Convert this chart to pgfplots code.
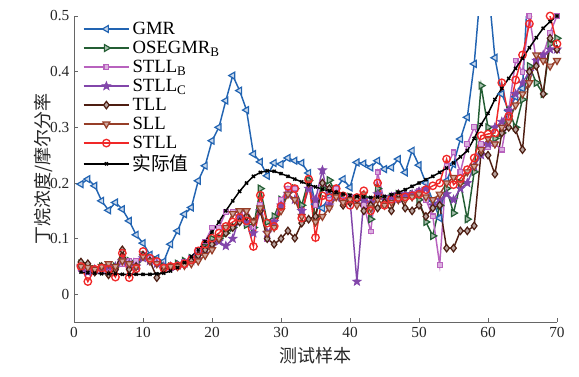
\documentclass[border=0pt]{standalone}
\usepackage{pgfplots}
\usepackage{pgfplotstable}
\pgfplotsset{compat=1.18}
\usepackage{fontspec}
\setmainfont{Liberation Serif}
\newfontfamily\cjk{Noto Sans CJK SC}
\definecolor{cgmr}{RGB}{34,100,178}
\definecolor{cose}{RGB}{36,94,52}
\definecolor{cstb}{RGB}{184,98,190}
\definecolor{cstc}{RGB}{130,70,170}
\definecolor{ctll}{RGB}{78,30,18}
\definecolor{csll}{RGB}{150,62,40}
\definecolor{cstll}{RGB}{240,40,40}
\pgfdeclareplotmark{fstar}{%
  \pgfpathmoveto{\pgfpointpolar{90}{\pgfplotmarksize}}%
  \pgfpathlineto{\pgfpointpolar{126}{0.42\pgfplotmarksize}}%
  \pgfpathlineto{\pgfpointpolar{162}{\pgfplotmarksize}}%
  \pgfpathlineto{\pgfpointpolar{198}{0.42\pgfplotmarksize}}%
  \pgfpathlineto{\pgfpointpolar{234}{\pgfplotmarksize}}%
  \pgfpathlineto{\pgfpointpolar{270}{0.42\pgfplotmarksize}}%
  \pgfpathlineto{\pgfpointpolar{306}{\pgfplotmarksize}}%
  \pgfpathlineto{\pgfpointpolar{342}{0.42\pgfplotmarksize}}%
  \pgfpathlineto{\pgfpointpolar{18}{\pgfplotmarksize}}%
  \pgfpathlineto{\pgfpointpolar{54}{0.42\pgfplotmarksize}}%
  \pgfpathclose
  \pgfusepathqfillstroke}
\pgfplotstableread{
x gmr ose stllb stllc tll sll stll act
1 0.198 0.055 0.045 0.050 0.058 0.050 0.050 0.040
2 0.207 0.050 0.040 0.040 0.055 0.048 0.023 0.039
3 0.195 0.045 0.042 0.045 0.040 0.045 0.045 0.038
4 0.168 0.050 0.050 0.045 0.050 0.050 0.047 0.037
5 0.151 0.048 0.048 0.050 0.035 0.055 0.045 0.037
6 0.165 0.050 0.050 0.050 0.045 0.050 0.031 0.037
7 0.153 0.060 0.055 0.060 0.080 0.060 0.074 0.036
8 0.132 0.060 0.060 0.055 0.045 0.055 0.030 0.036
9 0.107 0.058 0.060 0.050 0.050 0.050 0.046 0.036
10 0.092 0.070 0.070 0.065 0.070 0.068 0.077 0.036
11 0.071 0.066 0.065 0.060 0.060 0.060 0.065 0.036
12 0.065 0.060 0.060 0.055 0.030 0.055 0.059 0.037
13 0.059 0.050 0.050 0.050 0.045 0.050 0.047 0.038
14 0.090 0.050 0.048 0.050 0.050 0.050 0.050 0.042
15 0.114 0.055 0.050 0.052 0.050 0.050 0.051 0.048
16 0.144 0.060 0.058 0.055 0.055 0.052 0.055 0.057
17 0.156 0.065 0.065 0.060 0.060 0.055 0.062 0.068
18 0.204 0.075 0.080 0.070 0.070 0.060 0.078 0.080
19 0.231 0.085 0.095 0.080 0.080 0.070 0.090 0.095
20 0.276 0.100 0.120 0.090 0.090 0.080 0.101 0.112
21 0.300 0.100 0.120 0.095 0.100 0.100 0.110 0.130
22 0.348 0.110 0.148 0.087 0.110 0.120 0.122 0.150
23 0.393 0.120 0.148 0.100 0.120 0.145 0.130 0.168
24 0.366 0.140 0.150 0.140 0.130 0.150 0.138 0.185
25 0.331 0.125 0.150 0.130 0.140 0.150 0.132 0.200
26 0.252 0.120 0.120 0.110 0.130 0.130 0.086 0.212
27 0.238 0.190 0.160 0.150 0.150 0.155 0.178 0.219
28 0.213 0.130 0.100 0.110 0.100 0.110 0.128 0.222
29 0.236 0.140 0.130 0.130 0.090 0.120 0.122 0.221
30 0.234 0.170 0.170 0.160 0.100 0.150 0.158 0.217
31 0.245 0.185 0.190 0.180 0.114 0.180 0.194 0.212
32 0.240 0.190 0.190 0.170 0.101 0.170 0.190 0.207
33 0.236 0.160 0.150 0.150 0.128 0.140 0.137 0.202
34 0.218 0.205 0.190 0.190 0.135 0.200 0.207 0.197
35 0.162 0.140 0.160 0.170 0.140 0.130 0.102 0.193
36 0.155 0.190 0.200 0.223 0.200 0.140 0.177 0.189
37 0.175 0.205 0.170 0.160 0.190 0.155 0.174 0.186
38 0.190 0.180 0.190 0.175 0.180 0.175 0.190 0.183
39 0.207 0.170 0.170 0.165 0.160 0.165 0.177 0.180
40 0.192 0.175 0.175 0.170 0.165 0.170 0.160 0.178
41 0.237 0.170 0.165 0.023 0.170 0.160 0.174 0.176
42 0.235 0.175 0.160 0.170 0.150 0.180 0.186 0.175
43 0.228 0.135 0.113 0.165 0.160 0.155 0.150 0.174
44 0.240 0.190 0.219 0.180 0.155 0.170 0.200 0.175
45 0.225 0.170 0.165 0.170 0.165 0.160 0.160 0.176
46 0.228 0.175 0.170 0.175 0.150 0.165 0.171 0.179
47 0.243 0.180 0.170 0.180 0.180 0.170 0.174 0.183
48 0.219 0.175 0.175 0.180 0.155 0.170 0.175 0.188
49 0.258 0.180 0.180 0.180 0.150 0.175 0.177 0.194
50 0.232 0.170 0.185 0.185 0.160 0.180 0.180 0.200
51 0.200 0.130 0.170 0.190 0.140 0.175 0.188 0.206
52 0.168 0.105 0.140 0.160 0.155 0.170 0.195 0.212
53 0.137 0.160 0.053 0.170 0.160 0.180 0.200 0.219
54 0.204 0.190 0.230 0.180 0.083 0.200 0.243 0.227
55 0.234 0.146 0.255 0.170 0.083 0.210 0.197 0.236
56 0.279 0.200 0.220 0.190 0.114 0.200 0.208 0.247
57 0.318 0.135 0.270 0.200 0.114 0.220 0.224 0.258
58 0.414 0.220 0.300 0.230 0.123 0.230 0.245 0.280
59 0.560 0.375 0.270 0.250 0.255 0.260 0.285 0.305
60 0.560 0.300 0.265 0.270 0.250 0.280 0.288 0.325
61 0.425 0.280 0.270 0.300 0.216 0.270 0.290 0.350
62 0.360 0.290 0.260 0.310 0.290 0.300 0.380 0.370
63 0.330 0.330 0.330 0.330 0.300 0.310 0.320 0.388
64 0.355 0.300 0.420 0.360 0.296 0.340 0.385 0.406
65 0.370 0.350 0.400 0.380 0.260 0.360 0.430 0.424
66 0.600 0.410 0.500 0.400 0.400 0.380 0.486 0.443
67 0.700 0.380 0.420 0.420 0.410 0.430 0.530 0.461
68 0.700 0.360 0.430 0.430 0.360 0.420 0.520 0.478
69 0.700 0.450 0.470 0.440 0.460 0.410 0.500 0.490
70 0.700 0.460 0.500 0.440 0.440 0.420 0.450 0.500
}\data
\begin{document}
\begin{tikzpicture}
\begin{axis}[
  scale only axis,
  width=362pt, height=229.5pt,
  xmin=0, xmax=70, ymin=-0.05, ymax=0.5,
  axis x line*=bottom, axis y line*=left,
  axis line style={gray!80!black, line width=0.6pt},
  tick align=inside,
  major tick length=3pt,
  tick style={gray!80!black, line width=0.5pt},
  xtick={0,10,...,70},
  ytick={0,0.1,0.2,0.3,0.4,0.5},
  yticklabel style={/pgf/number format/fixed, /pgf/number format/precision=1},
  /pgf/number format/assume math mode=true,
  tick label style={font=\fontsize{11.5}{13}\selectfont, text=black!85},
  xlabel={\cjk 测试样本},
  ylabel={\cjk 丁烷浓度/摩尔分率},
  label style={font=\fontsize{13.5}{15}\selectfont, text=black!85},
  xlabel style={yshift=-1pt},
  ylabel style={yshift=-8.5pt},
  legend cell align=left,
  legend style={draw=none, fill=none, at={(rel axis cs:0.015,0.995)}, anchor=north west,
    font=\fontsize{14}{15}\selectfont, row sep=-0.5pt, inner sep=1pt},
  legend image code/.code={\draw[mark repeat=2,mark phase=2] plot coordinates {(0cm,0cm) (0.6cm,0cm) (1.2cm,0cm)};},
  every axis plot/.append style={line width=1.1pt},
]
\addplot[color=cgmr, mark=triangle*, mark size=3pt, mark options={rotate=90, fill=cgmr!25, line width=0.9pt}] table[x=x,y=gmr]{\data};
\addlegendentry{GMR}
\addplot[color=cose, mark=triangle*, mark size=3pt, mark options={rotate=-90, fill=cose!40, line width=0.9pt}] table[x=x,y=ose]{\data};
\addlegendentry{OSEGMR\textsubscript{B}}
\addplot[color=cstb, mark=square*, mark size=1.8pt, mark options={fill=cstb!50, line width=0.8pt}] table[x=x,y=stllb]{\data};
\addlegendentry{STLL\textsubscript{B}}
\addplot[color=cstc, mark=fstar, mark size=3.4pt, mark options={fill=cstc, line width=0.5pt}] table[x=x,y=stllc]{\data};
\addlegendentry{STLL\textsubscript{C}}
\addplot[color=ctll, mark=diamond*, mark size=2.8pt, mark options={fill=ctll!40, line width=0.9pt}] table[x=x,y=tll]{\data};
\addlegendentry{TLL}
\addplot[color=csll, mark=triangle*, mark size=3pt, mark options={rotate=180, fill=csll!45, line width=0.9pt}] table[x=x,y=sll]{\data};
\addlegendentry{SLL}
\addplot[color=cstll, mark=o, mark size=2.8pt, mark options={line width=1pt}] table[x=x,y=stll]{\data};
\addlegendentry{STLL}
\addplot[color=black, mark=x, mark size=1.6pt] table[x=x,y=act]{\data};
\addlegendentry{\cjk 实际值}
\end{axis}
\pgfresetboundingbox
\path[use as bounding box] ([shift={(-55.5pt,-40.5pt)}]current axis.south west) rectangle ([shift={(16.5pt,12pt)}]current axis.north east);
\end{tikzpicture}
\end{document}
